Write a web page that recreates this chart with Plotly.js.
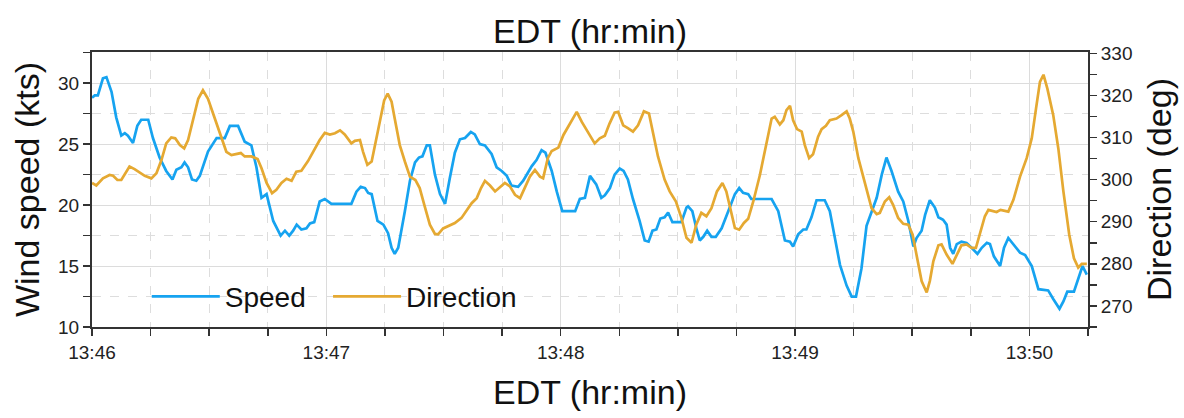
<!DOCTYPE html>
<html>
<head>
<meta charset="utf-8">
<script src="https://cdn.plot.ly/plotly-3.0.1.min.js"></script>
<style>html,body{margin:0;padding:0;background:#fff;}#chart{width:1184px;height:418px;}</style>
</head>
<body>
<div id="chart"></div>
<script>
// Seconds after 13:46:00 EDT
const speedSec = [0,0.7,1.5,2.8,3.7,5.0,6.2,7.5,8.4,9.2,10.5,11.6,12.6,14.4,15.6,17.3,19.0,20.6,21.6,22.9,23.7,24.6,25.6,26.7,27.6,29.7,31.9,34.0,35.3,37.4,39.1,40.8,42.1,43.4,44.7,46.4,48.3,49.4,50.5,51.5,52.4,53.6,54.9,55.8,56.9,58.3,59.6,61.3,66.4,67.7,68.8,69.9,70.7,71.6,73.1,74.6,75.8,76.7,77.5,78.4,80.1,81.4,82.7,83.7,84.6,85.7,86.5,87.8,89.1,90.4,91.6,92.9,94.2,95.5,97.0,98.0,99.3,100.6,102.3,103.6,104.9,106.2,107.4,109.1,110.4,112.6,113.8,115.1,116.1,117.7,119.0,120.4,123.7,124.9,126.2,127.5,129.1,130.4,131.3,132.6,133.8,135.1,136.1,137.2,138.5,140.2,141.5,142.5,143.5,144.5,145.5,146.6,147.5,148.6,150.9,152.2,152.6,153.7,154.8,155.6,156.5,157.5,158.6,159.7,161.2,162.9,164.6,165.7,166.7,168.0,168.8,174.0,175.7,177.4,178.7,179.5,180.8,182.1,182.9,184.2,185.5,187.6,188.9,190.2,191.5,193.2,194.5,195.6,197.0,198.3,199.6,200.9,202.2,203.4,204.7,206.4,207.7,209.0,210.3,211.1,212.4,213.3,214.5,215.8,216.7,217.9,218.8,219.7,220.5,221.4,222.6,223.9,225.2,226.7,227.8,229.1,229.9,230.9,232.5,233.5,234.6,235.9,237.6,238.9,240.6,242.3,244.8,246.1,247.7,248.7,249.7,251.4,252.5,253.6,254.7];
const speedKts = [28.8,29.0,29.0,30.4,30.5,29.3,27.2,25.7,25.9,25.7,25.1,26.5,27.0,27.0,25.5,23.9,22.8,22.1,22.9,23.1,23.5,23.1,22.1,22.0,22.4,24.4,25.5,25.5,26.5,26.5,25.2,24.9,23.1,20.6,20.9,18.7,17.5,17.9,17.5,17.9,18.4,18.0,18.1,18.5,18.6,20.3,20.5,20.1,20.1,21.1,21.5,21.4,21.0,20.9,18.7,18.4,17.7,16.5,16.0,16.5,19.5,22.0,23.5,23.9,24.0,24.9,24.9,22.5,20.9,20.1,22.2,24.3,25.4,25.5,26.0,25.8,25.0,24.9,24.2,23.1,22.8,22.4,21.6,21.5,22.0,23.2,23.7,24.5,24.3,22.8,21.1,19.5,19.5,20.5,20.6,22.4,21.7,20.6,20.8,21.4,22.5,23.0,22.8,22.1,20.5,18.7,17.1,17.0,17.9,18.0,18.9,19.0,19.4,18.6,18.6,19.8,19.9,19.5,18.0,17.1,17.4,17.9,17.4,17.4,18.1,19.5,20.9,21.4,21.0,20.9,20.5,20.5,19.5,17.1,17.0,16.6,17.6,18.0,18.0,19.0,20.4,20.4,19.5,17.3,15.1,13.4,12.5,12.5,14.8,18.3,19.5,20.6,22.5,23.9,22.8,21.1,20.3,18.7,16.6,17.3,17.9,19.2,20.4,19.8,19.0,18.8,18.4,16.5,16.0,16.8,17.0,16.9,16.5,16.0,16.5,16.9,16.8,15.8,15.0,16.5,17.3,16.8,16.1,15.9,15.0,13.1,13.0,12.3,11.5,12.1,12.9,12.9,14.0,15.0,14.3];

const dirSec = [0,1.1,2.8,4.5,5.4,6.5,7.5,8.5,9.6,10.9,12.2,13.5,15.2,16.5,17.8,19.0,20.3,21.3,22.5,23.6,24.6,25.9,27.2,28.4,29.7,31.0,32.7,34.4,35.7,37.0,38.1,39.1,40.8,42.4,43.4,44.7,46.1,47.2,48.5,49.8,51.1,52.3,53.6,55.3,57.0,58.3,59.6,60.9,62.2,63.5,64.7,66.4,67.3,68.6,69.4,70.5,71.6,72.6,73.7,74.8,75.7,76.7,77.5,78.8,80.1,81.4,82.8,83.9,85.2,86.5,87.8,88.6,89.9,91.2,92.9,94.6,95.9,97.2,98.5,99.6,100.6,101.9,103.2,104.4,105.7,107.0,108.3,109.6,110.8,112.1,113.4,114.7,115.5,116.7,117.7,119.4,120.7,122.4,124.1,125.4,126.6,127.6,128.7,130.0,131.3,132.5,133.8,134.7,136.0,137.2,138.5,139.8,141.3,142.6,143.6,144.9,146.6,147.9,149.5,150.9,152.2,153.5,154.7,156.0,157.3,158.6,160.0,161.4,162.4,163.5,164.6,165.7,166.9,168.0,169.3,171.0,172.7,174.0,174.8,176.1,177.0,177.8,178.7,179.5,180.5,181.7,182.5,183.6,184.6,185.9,186.8,187.9,188.9,190.6,191.9,193.2,194.0,194.9,196.2,197.9,199.6,200.9,201.7,203.0,204.1,205.1,206.4,207.7,209.0,210.1,211.1,212.4,213.7,214.5,215.4,216.7,217.5,218.8,220.3,221.4,222.6,223.9,225.2,226.3,227.3,228.6,229.5,230.8,231.6,232.6,234.6,235.9,237.6,239.3,240.6,241.7,242.7,243.6,244.6,246.1,247.4,248.7,250.2,251.4,252.5,253.4,254.7];
const dirDeg = [299.2,298.6,300.3,301.1,300.9,299.9,299.9,301.5,303.1,302.5,301.8,300.9,300.3,301.5,304.7,308.6,310.0,309.8,308.2,307.4,309.4,314.1,319.2,321.2,319.2,315.7,311.0,306.6,305.8,306.0,306.3,305.5,305.5,304.9,302.7,299.2,296.8,297.6,299.2,300.2,299.7,301.9,302.1,304.4,307.4,309.4,311.1,310.7,311.0,311.7,310.7,308.6,309.2,309.4,306.6,303.5,304.3,308.6,314.1,318.8,320.4,318.5,314.5,308.2,304.3,300.7,299.9,298.0,293.6,289.3,287.1,287.0,288.4,288.9,289.7,290.9,292.5,294.4,295.6,298.0,299.7,298.6,297.2,298.1,299.2,298.4,296.4,295.6,298.0,300.7,302.3,300.7,300.3,305.1,306.8,307.6,310.6,313.3,316.1,313.7,311.8,310.4,308.6,309.8,310.4,313.3,315.9,316.1,312.9,312.2,311.4,312.9,316.2,315.7,311.4,305.5,300.0,297.2,294.8,290.9,286.2,285.0,289.3,292.1,291.3,293.2,297.2,299.2,297.2,293.2,288.5,288.1,289.7,290.7,294.8,301.1,309.0,314.5,314.9,313.1,314.1,316.5,317.5,314.1,312.0,311.4,308.2,305.1,306.0,310.2,312.0,312.8,314.1,314.5,315.3,316.2,314.5,311.4,305.1,298.8,293.2,291.8,292.1,294.8,295.8,294.0,290.9,289.5,289.3,286.9,282.2,275.9,273.2,275.9,280.6,284.4,284.6,282.2,280.0,282.2,284.4,284.6,283.8,283.8,286.9,291.3,292.8,292.4,292.3,292.8,292.4,295.2,300.7,305.1,309.8,316.9,323.2,324.9,321.6,315.3,307.4,297.2,286.9,281.3,279.1,280.0,280.0];

const speedTickVals = [10, 15, 20, 25, 30];
const dirTickVals = [270, 280, 290, 300, 310, 320, 330];
const timeTickLabels = ["13:46", "13:47", "13:48", "13:49", "13:50"];

const day = "2024-06-01";
function toTime(s) {
  const base = new Date(Date.UTC(2024, 5, 1, 13, 46, 0));
  const d = new Date(base.getTime() + Math.round(s * 1000));
  return d.toISOString().replace("T", " ").replace("Z", "");
}
const timeTickVals = timeTickLabels.map(l => day + " " + l + ":00");

const FONT = "Liberation Sans, Arial, sans-serif";
const AX = "#333333";

const traces = [
  {
    x: speedSec.map(toTime), y: speedKts, name: "Speed", type: "scatter", mode: "lines",
    line: {color: "#16A3F0", width: 2.7}, yaxis: "y", legend: "legend"
  },
  {
    x: dirSec.map(toTime), y: dirDeg, name: "Direction", type: "scatter", mode: "lines",
    line: {color: "#E5A932", width: 2.7}, yaxis: "y2", legend: "legend2"
  }
];

const legendBase = {orientation: "h", xanchor: "left", y: 0.11, yanchor: "middle",
                    bgcolor: "rgba(0,0,0,0)", font: {family: FONT, size: 28, color: "#111"},
                    itemwidth: 68};

const layout = {
  width: 1184, height: 418,
  margin: {l: 92, r: 96, t: 52, b: 90.5, pad: 0},
  paper_bgcolor: "#ffffff", plot_bgcolor: "#ffffff",
  font: {family: FONT, color: "#222222", size: 19},
  showlegend: true,
  title: {text: "EDT (hr:min)", font: {family: FONT, size: 34, color: "#111"},
          x: 0.5, xref: "paper", xanchor: "center", y: 1 - 31/418, yref: "container", yanchor: "middle"},
  legend: Object.assign({}, legendBase, {x: 0.055}),
  legend2: Object.assign({}, legendBase, {x: 0.237}),
  xaxis: {
    type: "date",
    range: [toTime(0), toTime(255)],
    tickmode: "array", tickvals: timeTickVals, ticktext: timeTickLabels,
    ticks: "outside", ticklen: 7, tickwidth: 1.5, tickcolor: AX,
    showline: true, linecolor: AX, linewidth: 2, mirror: true,
    showgrid: true, gridcolor: "#dcdcdc", gridwidth: 1,
    zeroline: false,
    tickfont: {family: FONT, size: 19, color: "#222"},
    title: {text: "EDT (hr:min)", font: {family: FONT, size: 34, color: "#111"}, standoff: 18},
    minor: {dtick: 15000, tick0: toTime(0), ticks: "outside", ticklen: 7, tickwidth: 1.5, tickcolor: AX,
            showgrid: true, gridcolor: "#dddddd", griddash: "dash", gridwidth: 1}
  },
  yaxis: {
    range: [10, 32.56],
    tickmode: "array", tickvals: speedTickVals,
    ticks: "outside", ticklen: 7, tickwidth: 1.5, tickcolor: AX,
    showline: true, linecolor: AX, linewidth: 2,
    showgrid: true, gridcolor: "#dcdcdc", gridwidth: 1, zeroline: false,
    tickfont: {family: FONT, size: 19, color: "#222"},
    title: {text: "Wind speed (kts)", font: {family: FONT, size: 34, color: "#111"}, standoff: 8},
    minor: {dtick: 2.5, tick0: 10, ticks: "outside", ticklen: 7, tickwidth: 1.5, tickcolor: AX,
            showgrid: true, gridcolor: "#dddddd", griddash: "dash", gridwidth: 1}
  },
  yaxis2: {
    overlaying: "y", side: "right",
    range: [265, 330.3],
    tickmode: "array", tickvals: dirTickVals,
    ticks: "outside", ticklen: 7, tickwidth: 1.5, tickcolor: AX,
    showline: true, linecolor: AX, linewidth: 2,
    showgrid: false, zeroline: false,
    tickfont: {family: FONT, size: 19, color: "#222"},
    title: {text: "Direction (deg)", font: {family: FONT, size: 34, color: "#111"}, standoff: 16},
    minor: {dtick: 5, tick0: 265, ticks: "outside", ticklen: 7, tickwidth: 1.5, tickcolor: AX, showgrid: false}
  }
};

Plotly.newPlot("chart", traces, layout, {staticPlot: true, displayModeBar: false});
</script>
</body>
</html>
